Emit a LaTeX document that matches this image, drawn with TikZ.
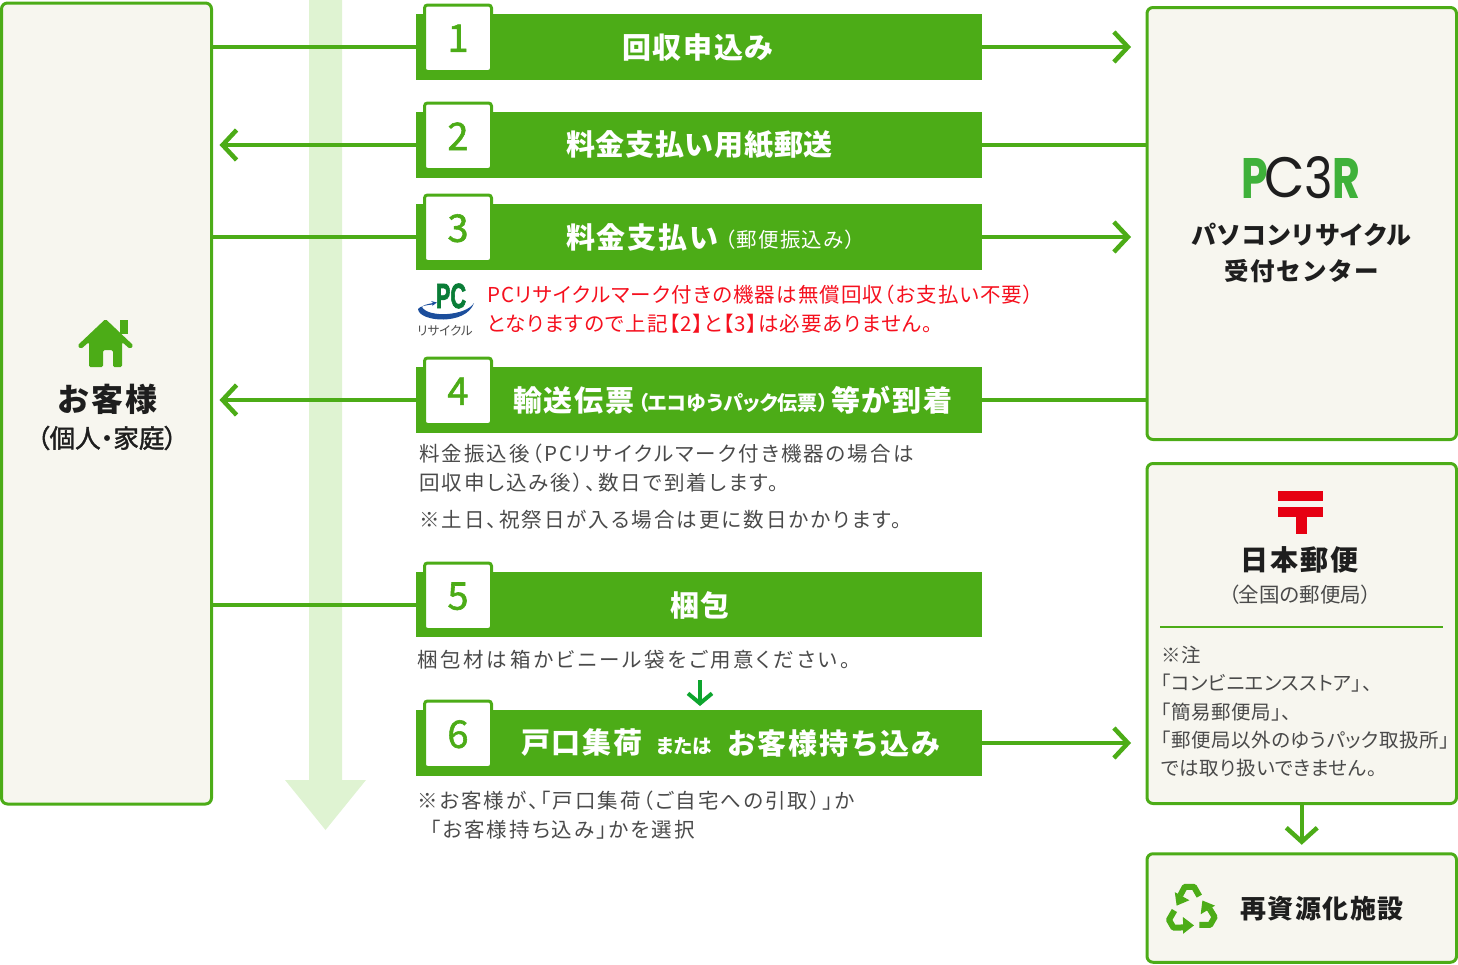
\documentclass[tikz,border=0pt]{standalone}
\usepackage{fontspec}
\usetikzlibrary{arrows.meta}
\setmainfont{Noto Sans CJK JP}
\newfontfamily\jpB[RawFeature=+palt,LetterSpace=10]{Noto Sans CJK JP}
\newfontfamily\jpBw[RawFeature=+palt,LetterSpace=13.5]{Noto Sans CJK JP}
\newfontfamily\jpR[RawFeature=+palt,LetterSpace=5.3]{Noto Sans CJK JP}
\newfontfamily\jpN[RawFeature=+palt,LetterSpace=2.6]{Noto Sans CJK JP}
\newfontfamily\jpH[RawFeature=+palt,LetterSpace=6]{Noto Sans CJK JP}
\newfontfamily\jpT[LetterSpace=6]{Noto Sans CJK JP}
\newfontfamily\jpTn[LetterSpace=2.5]{Noto Sans CJK JP}
\newfontfamily\jpP[RawFeature=+palt]{Noto Sans CJK JP}
\newfontfamily\jpM[FakeBold=1.5]{Noto Sans CJK JP}
\newfontfamily\jpMP[RawFeature=+palt,FakeBold=1.5]{Noto Sans CJK JP}
\newfontfamily\logoP{Poppins}
\newfontfamily\logoL[FakeBold=2.5]{Liberation Sans}
\newcommand\fs[1]{\fontsize{#1}{#1}\selectfont}
\definecolor{gr}{HTML}{4CAC17}
\definecolor{band}{HTML}{DFF3D2}
\definecolor{cream}{HTML}{F7F6EF}
\definecolor{ink}{HTML}{4A4A4A}
\definecolor{redt}{HTML}{F5101E}
\definecolor{dark}{HTML}{1E1E1E}
\definecolor{logog}{HTML}{3FB13A}
\definecolor{postred}{HTML}{E60012}
\definecolor{arrg}{HTML}{0EA52E}
\definecolor{pcg}{HTML}{0A7D37}
\definecolor{pcb}{HTML}{1C4E9C}
\tikzset{
  x=1pt,y=-1pt,
  panel/.style={draw=gr,fill=cream,line width=3pt,rounded corners=6pt,inner sep=0pt,outer sep=0pt},
  bar/.style={fill=gr,minimum width=566pt,minimum height=66pt,inner sep=0pt,outer sep=0pt},
  tabbox/.style={draw=gr,fill=white,line width=3pt,rounded corners=3pt,minimum width=67pt,minimum height=66.5pt,inner sep=0pt,outer sep=0pt,text=gr,font=\jpM\fs{38}},
  bartext/.style={text=white,inner sep=0pt,font=\jpT\bfseries\fs{29}},
  body/.style={text=ink,inner sep=0pt,anchor=west,align=left,font=\jpB\fs{20.5}},
  jpnote/.style={body,font=\jpN\fs{19.5}},
  redline/.style={body,text=redt,font=\jpR\fs{20.5}},
  head/.style={text=dark,inner sep=0pt,align=center,font=\jpT\bfseries},
  flow/.style={draw=gr,line width=4pt},
  flowarr/.style={flow,-{Straight Barb[length=14pt,width=30pt,line width=4.5pt]}},
}
\begin{document}
\begin{tikzpicture}
\useasboundingbox (0,0) rectangle (1458,964);
% progress band
\fill[band] (309,0) -- (342,0) -- (342,780) -- (366,780) -- (325.5,830) -- (285,780) -- (309,780) -- cycle;
% panels
\node[panel,minimum width=210pt,minimum height=801pt] (cust) at (106.5,403.5) {};
\node[panel,minimum width=309.5pt,minimum height=432pt] (pc) at (1301.75,223.5) {};
\node[panel,minimum width=309.5pt,minimum height=340pt] (jp) at (1301.75,633.5) {};
\node[panel,minimum width=309.5pt,minimum height=108.5pt] (rec) at (1301.75,908) {};
% bars
\node[bar] (bar1) at (699,47) {};
\node[bar] (bar2) at (699,145) {};
\node[bar] (bar3) at (699,237) {};
\node[bar] (bar4) at (699,400) {};
\node[bar,minimum height=65pt] (bar5) at (699,604.5) {};
\node[bar] (bar6) at (699,743) {};
% tabs
\node[tabbox] (tab1) at (458,38.25) {1};
\node[tabbox] (tab2) at (458,136.25) {2};
\node[tabbox] (tab3) at (458,228.25) {3};
\node[tabbox] (tab4) at (458,391.25) {4};
\node[tabbox] (tab5) at (458,596.25) {5};
\node[tabbox] (tab6) at (458,734.25) {6};
% connectors
\draw[flow] (bar1.west -| cust.east) -- (bar1.west);
\draw[flowarr,shorten >=16pt] (bar1.east) -- (bar1.east -| pc.west);
\draw[flowarr,shorten >=8pt] (bar2.west) -- (bar2.west -| cust.east);
\draw[flow] (bar2.east) -- (bar2.east -| pc.west);
\draw[flow] (bar3.west -| cust.east) -- (bar3.west);
\draw[flowarr,shorten >=16pt] (bar3.east) -- (bar3.east -| pc.west);
\draw[flowarr,shorten >=8pt] (bar4.west) -- (bar4.west -| cust.east);
\draw[flow] (bar4.east) -- (bar4.east -| pc.west);
\draw[flow] (bar5.west -| cust.east) -- (bar5.west);
\draw[flowarr,shorten >=16pt] (bar6.east) -- (bar6.east -| jp.west);
\draw[flow,shorten >=9pt,-{Straight Barb[length=14pt,width=31pt,line width=4.5pt]}] (jp.south) -- (rec.north);
\coordinate (c56) at (700,680);
\draw[color=arrg,line width=4pt,-{Straight Barb[length=10pt,width=24pt,line width=4pt]},shorten >=4pt] (c56) -- (c56 |- bar6.north);
% bar texts
\node[bartext] (t1) at (698,47) {回収申込み};
\node[bartext,font=\jpTn\bfseries\fs{29}] (t2) at (699.5,145) {料金支払い用紙郵送};
\node[bartext,anchor=west] (t3) at (566,237) {料金支払い};
\node[text=white,inner sep=0pt,anchor=west,font=\jpH\fs{20.5}] (t3b) at (725,240) {（郵便振込み）};
\node[bartext,anchor=west] (t4) at (513,400) {輸送伝票};
\node[text=white,inner sep=0pt,anchor=west,font=\jpP\bfseries\fs{20}] (t4b) at (638,403) {（エコゆうパック伝票）};
\node[bartext,anchor=west] (t4c) at (831,400) {等が到着};
\node[bartext] (t5) at (700,605) {梱包};
\node[bartext,anchor=west] (t6) at (521,743) {戸口集荷};
\node[text=white,inner sep=0pt,anchor=west,font=\jpP\bfseries\fs{19.5}] (t6b) at (656,746) {または};
\node[bartext,anchor=west] (t6c) at (727,743) {お客様持ち込み};
% customer
\fill[gr,rounded corners=1.5pt] (105.5,319) -- (133.5,345.5) -- (130,349) -- (122,342) -- (122,367) -- (113,367) -- (113,350) -- (103,350) -- (103,367) -- (89,367) -- (89,342) -- (81,349) -- (77.5,345.5) -- cycle;
\fill[gr] (120,319.5) rectangle (128,334);
\node[head,font=\jpT\bfseries\fs{32}] (custa) at (107.5,399) {お客様};
\node[head,font=\jpMP\fs{25.5}] (custb) at (107,438) {（個人・家庭）};
% PC3R logo
\node[inner sep=0pt,anchor=west,text=logog,font=\logoP\bfseries\fs{57},transform shape,xscale=.75] (lp) at (1241,178) {P};
\node[inner sep=0pt,anchor=west,text=dark,font=\logoP\fs{57},transform shape,xscale=.92] (lc) at (1264,178) {C};
\node[inner sep=0pt,anchor=west,text=dark,font=\logoP\fs{57},transform shape,xscale=.85] (l3) at (1304,178) {3};
\node[inner sep=0pt,anchor=west,text=logog,font=\logoP\bfseries\fs{57},transform shape,xscale=.75] (lr) at (1332,178) {R};
\node[head,font=\jpH\bfseries\fs{25}] (pca) at (1301.5,235) {パソコンリサイクル};
\node[head,font=\jpT\bfseries\fs{24.5}] (pcbt) at (1302,271) {受付センター};
% post mark
\fill[postred] (1278,491) rectangle (1323,501);
\fill[postred] (1278,507) rectangle (1323,517);
\fill[postred] (1296,517) rectangle (1307,534);
\node[head,font=\jpT\bfseries\fs{28}] (jpa) at (1299.5,560) {日本郵便};
\node[text=ink,inner sep=0pt,font=\jpP\fs{20.5}] (jpb) at (1300,595) {（全国の郵便局）};
\coordinate (divl) at (1160,627);
\coordinate (divr) at (1443,627);
\draw[gr,line width=2pt] (divl) -- (divr);
\node[jpnote] at (1161,655) (n1) {※注};
\node[jpnote] at (1161,683) (n2) {「コンビニエンスストア」、};
\node[jpnote] at (1161,712) (n3) {「簡易郵便局」、};
\node[jpnote] at (1161,740) (n4) {「郵便局以外のゆうパック取扱所」};
\node[jpnote] at (1161,768) (n5) {では取り扱いできません。};
% recycling
\foreach \a in {0,120,240}{
\begin{scope}[shift={(1191,910.5)},rotate=\a,scale=1.08]
\draw[gr,line width=6pt,line join=round] (7.7,-13.3) -- (2.7,-22) -- (-5.7,-22) -- (-10,-14);
\fill[gr] (-15,-17) -- (-1.5,-9.5) -- (-13.3,-4.5) -- cycle;
\end{scope}}
\node[head,font=\jpT\bfseries\fs{26}] (reca) at (1322,909) {再資源化施設};
% PC recycle logo
\node[inner sep=0pt,text=pcg,font=\logoL\bfseries\fs{35},transform shape,xscale=.62] (pcm) at (451,296) {PC};
\fill[pcb] (418,309) .. controls (419,322) and (466,326) .. (474,303) .. controls (466,316) and (428,318) .. (422,307) .. controls (423,305) and (428,304) .. (433,303) -- (431,301) -- (437,302.5) -- (432,306) -- (433,304.5) .. controls (427,305) and (420,306) .. (418,309) -- cycle;
\node[inner sep=0pt,text=ink,font=\jpP\fs{12.5}] (pcr) at (445,331) {リサイクル};
\node[redline] (r1) at (487,295) {PCリサイクルマーク付きの機器は無償回収（お支払い不要）};
\node[redline] (r2) at (487,324) {となりますので上記【2】と【3】は必要ありません。};
% notes
\node[body] (a1) at (419,454) {料金振込後（PCリサイクルマーク付き機器の場合は};
\node[body] (a2) at (419,483) {回収申し込み後）、数日で到着します。};
\node[body] (a3) at (419,520) {※土日、祝祭日が入る場合は更に数日かかります。};
\node[body,font=\jpBw\fs{20.5}] (b1) at (417,660) {梱包材は箱かビニール袋をご用意ください。};
\node[body] (c1) at (417,801) {※お客様が、「戸口集荷（ご自宅への引取）」か};
\node[body] (c2) at (430,830) {「お客様持ち込み」かを選択};
\end{tikzpicture}
\end{document}
